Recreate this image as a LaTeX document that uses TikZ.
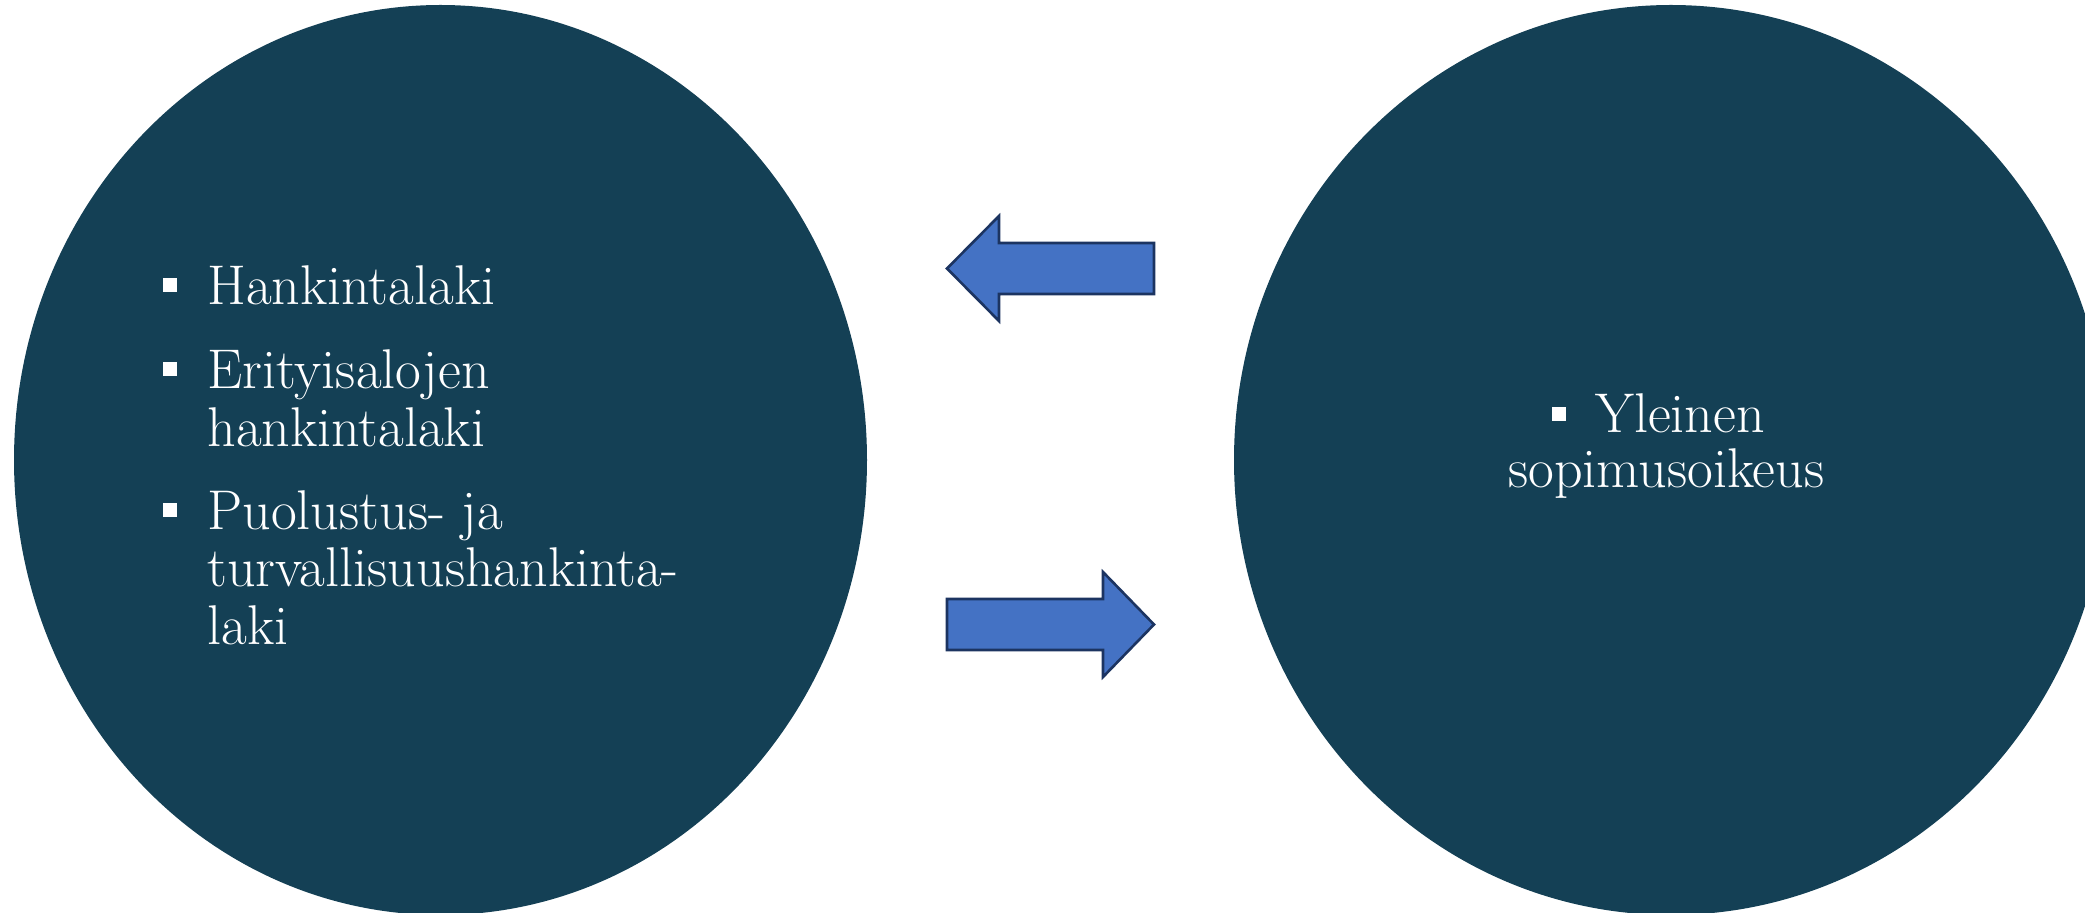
\documentclass[tikz,border=0pt]{standalone}
\usetikzlibrary{shapes.geometric}
\definecolor{discfill}{HTML}{144055}
\definecolor{arrowfill}{HTML}{4472C4}
\definecolor{arrowline}{HTML}{1C3461}
\tikzset{
 disc/.style={ellipse, fill=discfill, draw=none, inner sep=0pt},
 item/.style={anchor=base west, text=white, inner sep=0pt, font=\fontsize{28}{30}\selectfont},
 bulletbox/.style={fill=white, minimum size=7pt, inner sep=0pt, draw=none},
 blockarrow/.style={fill=arrowfill, draw=arrowline, line width=1.3pt, line join=miter}
}
\begin{document}
\begin{tikzpicture}[x=0.5pt,y=-0.5pt]
\useasboundingbox (0,0) rectangle (2085,913);
\clip (0,0) rectangle (2085,913);
\node[disc, minimum width=426.5pt, minimum height=455pt] (left) at (440.5,460) {};
\node[disc, minimum width=437pt, minimum height=455pt] (right) at (1671,460) {};
\draw[blockarrow] (1154,243) -- (999,243) -- (999,216) -- (947,268.5) -- (999,321) -- (999,294) -- (1154,294) -- cycle;
\draw[blockarrow] (947,599) -- (1103,599) -- (1103,572) -- (1154,624.5) -- (1103,677) -- (1103,650) -- (947,650) -- cycle;
\node[bulletbox] (b1) at (170,285) {};
\node[bulletbox] (b2) at (170,369) {};
\node[bulletbox] (b3) at (170,510) {};
\node[bulletbox] (b4) at (1559,414) {};
\node[item] (t1) at (207,305) {Hankintalaki};
\node[item] (t2) at (207,389) {Erityisalojen};
\node[item] (t3) at (207,447) {hankintalaki};
\node[item] (t4) at (207,530) {Puolustus- ja};
\node[item] (t5) at (207,587) {turvallisuushankinta-};
\node[item] (t6) at (207,645) {laki};
\node[item] (t7) at (1595,433) {Yleinen};
\node[item] (t8) at (1508,488) {sopimusoikeus};
\end{tikzpicture}
\end{document}
